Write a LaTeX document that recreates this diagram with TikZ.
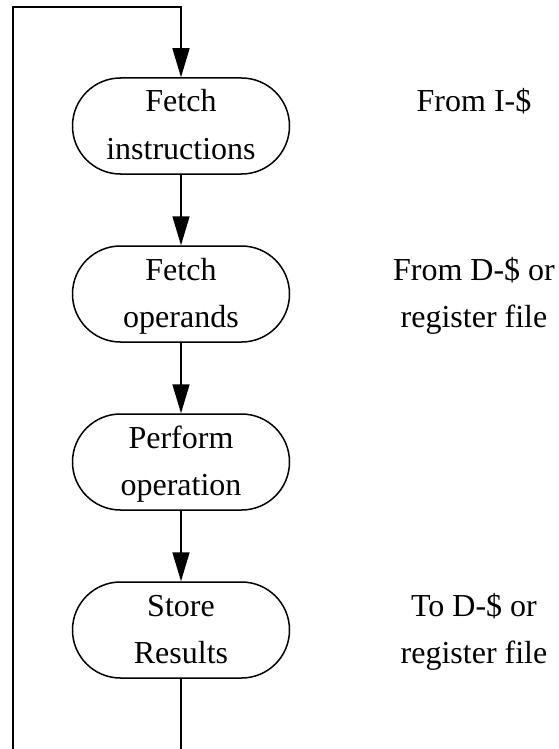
\documentclass[tikz,border=0pt]{standalone}
\usepackage{fontspec}
\setmainfont{Liberation Serif}
\usetikzlibrary{shapes.misc,arrows.meta}
\begin{document}
\begin{tikzpicture}[x=1pt,y=-1pt,
  stepbox/.style={rounded rectangle, draw, line width=1.5pt, minimum width=217pt, minimum height=96pt, inner sep=0pt},
  txt/.style={anchor=base, inner sep=0pt, font=\fontsize{32}{47}\selectfont},
  conn/.style={line width=1.5pt},
  arr/.style={conn, -{Triangle[length=29pt,width=17pt]}}]
\useasboundingbox[fill=white] (0,0) rectangle (558,749);
\node[stepbox] (s1) at (181,126) {};
\node[stepbox] (s2) at (181,294) {};
\node[stepbox] (s3) at (181,462) {};
\node[stepbox] (s4) at (181,630) {};
% box texts
\node[txt] (t1a) at (181,112) {Fetch};
\node[txt] (t1b) at (181,159) {instructions};
\node[txt] (t2a) at (181,280) {Fetch};
\node[txt] (t2b) at (181,327) {operands};
\node[txt] (t3a) at (181,448) {Perform};
\node[txt] (t3b) at (181,495) {operation};
\node[txt] (t4a) at (181,616) {Store};
\node[txt] (t4b) at (181,663) {Results};
% side notes
\node[txt] (n1) at (474,112) {From I-\$};
\node[txt] (n2a) at (474,280) {From D-\$ or};
\node[txt] (n2b) at (474,327) {register file};
\node[txt] (n4a) at (474,616) {To D-\$ or};
\node[txt] (n4b) at (474,663) {register file};
% connectors
\draw[arr] (s1) -- (s2);
\draw[arr] (s2) -- (s3);
\draw[arr] (s3) -- (s4);
\coordinate (b1) at (181,749);
\coordinate (b2) at (13,749);
\coordinate (tl) at (13,7);
\coordinate (tr) at (181,7);
\draw[conn] (s4) -- (b1);
\draw[arr] (b2) -- (tl) -- (tr) -- (s1);
\end{tikzpicture}
\end{document}
